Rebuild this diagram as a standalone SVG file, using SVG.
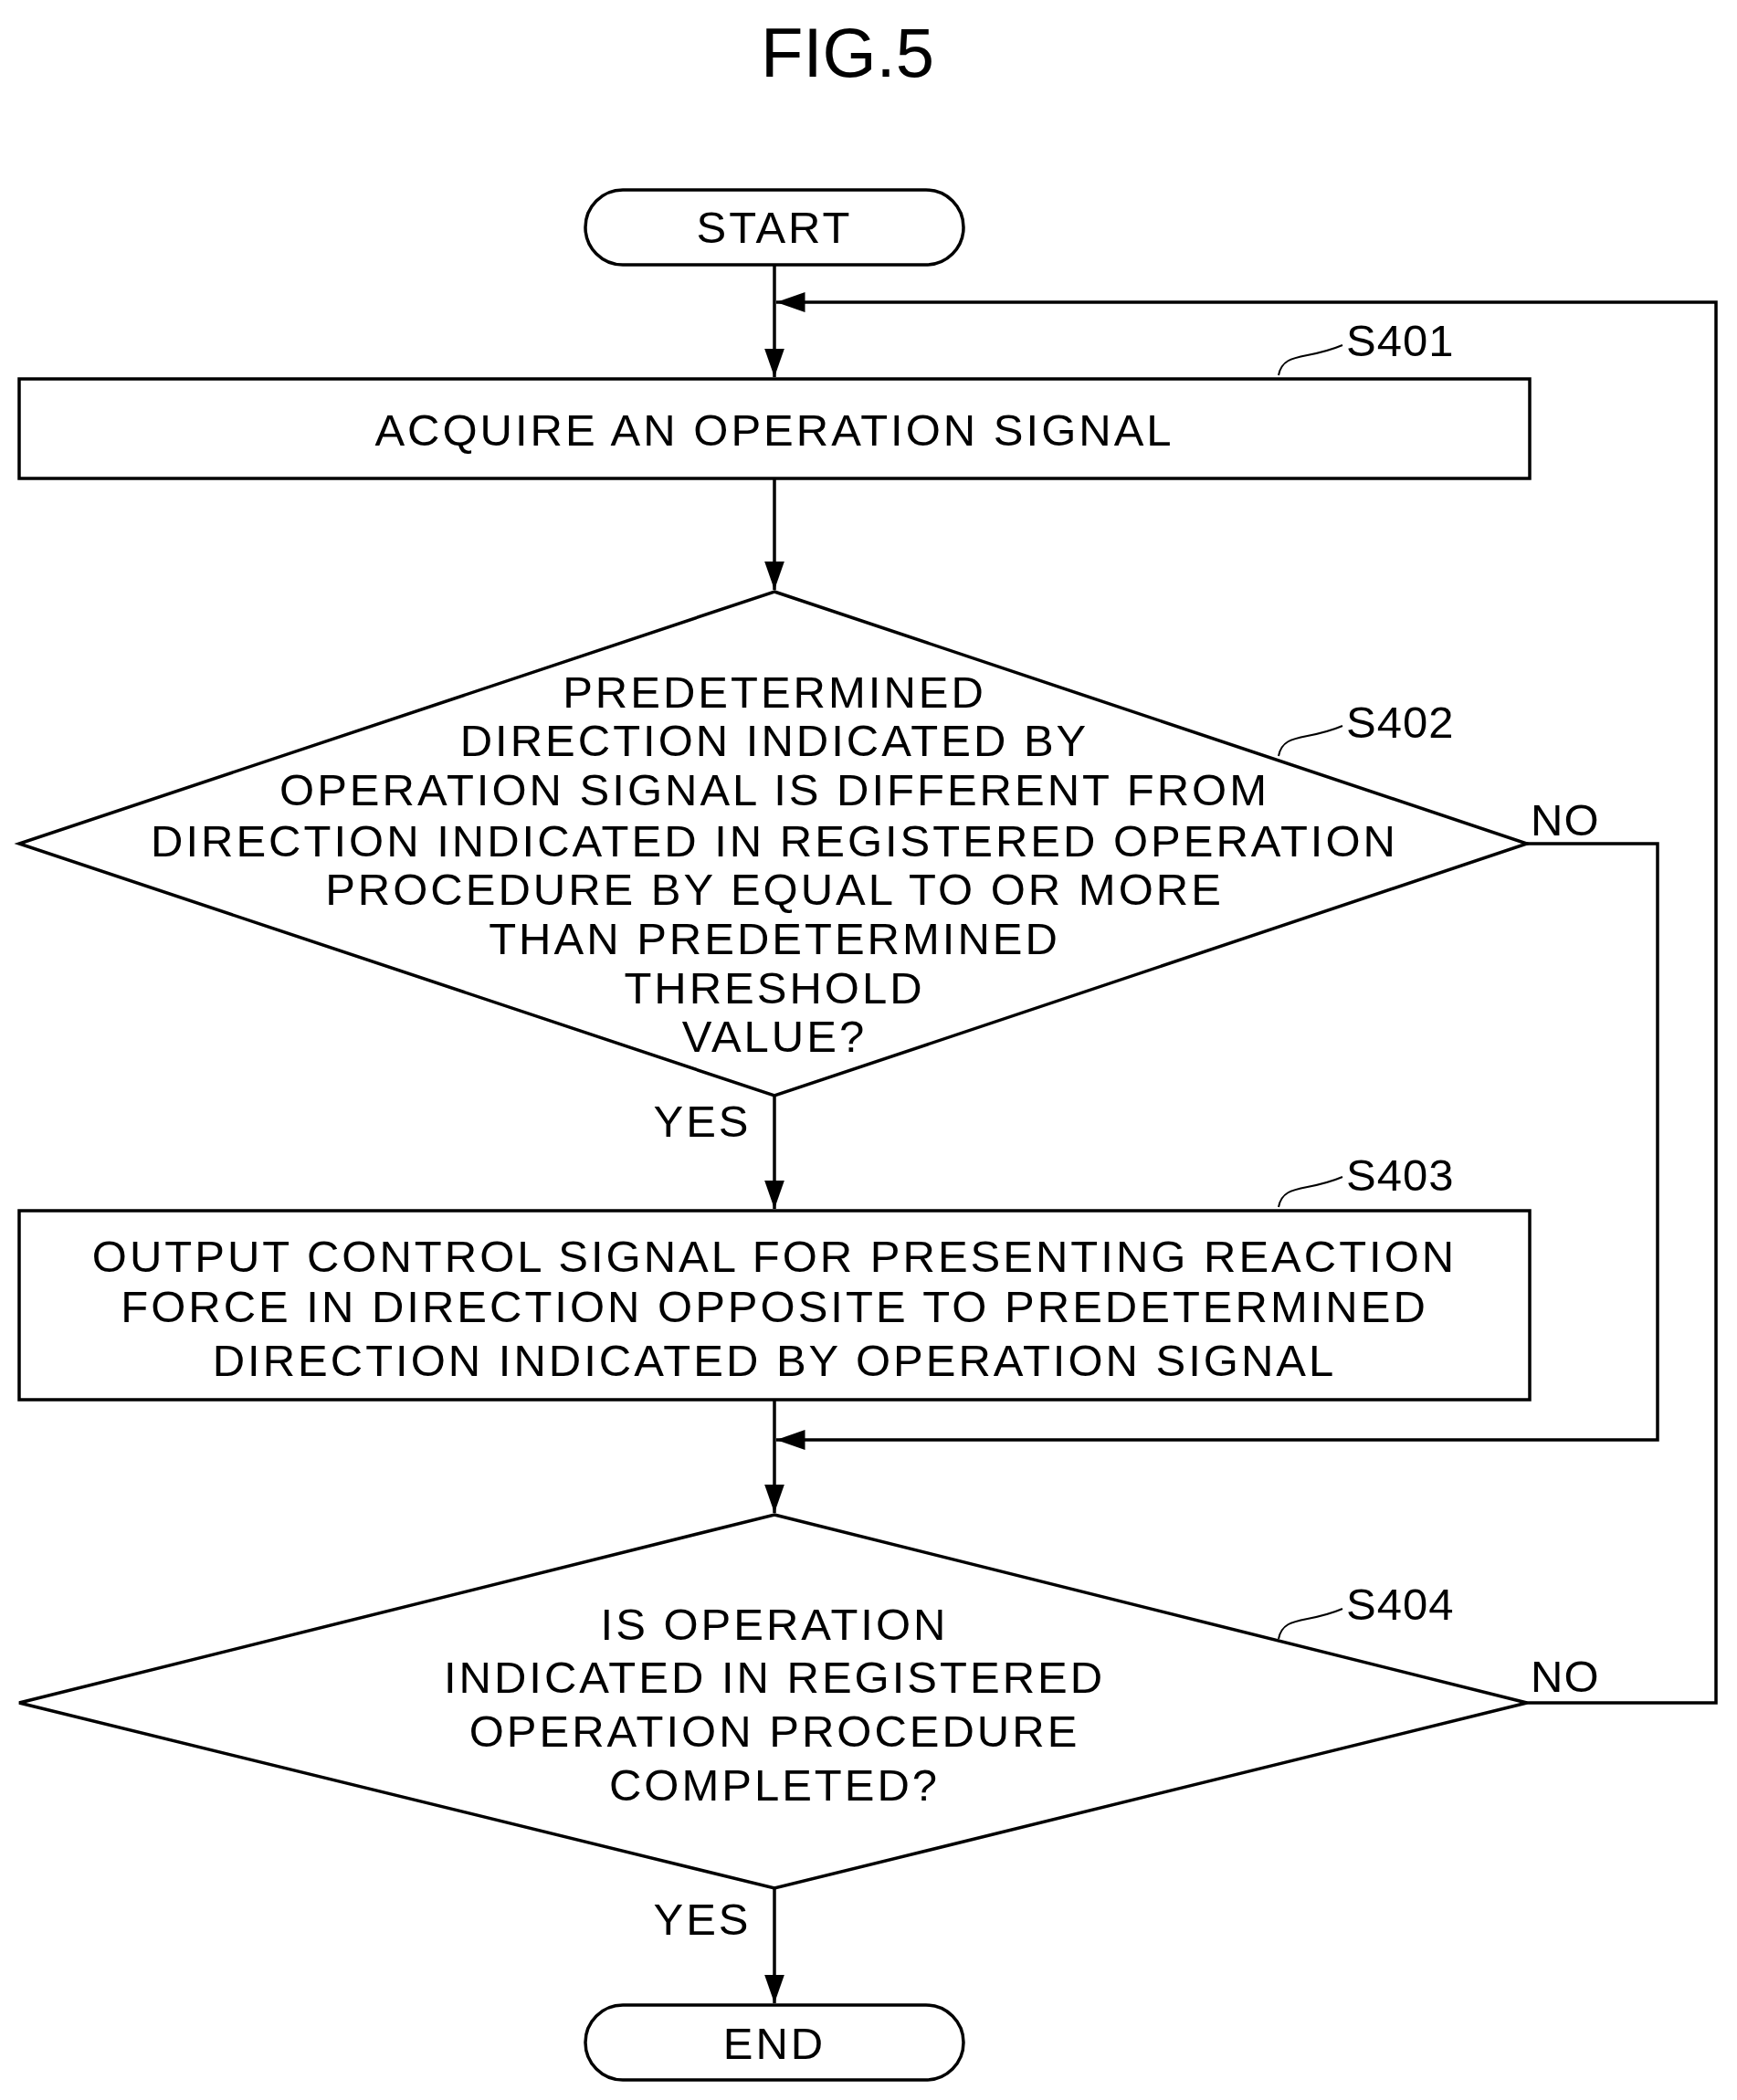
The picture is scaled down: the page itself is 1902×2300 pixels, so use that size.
<svg xmlns="http://www.w3.org/2000/svg" width="1902" height="2300" viewBox="0 0 1902 2300">
<style>
.s{fill:none;stroke:#000;stroke-width:3.5}
.t{font-family:"Liberation Sans",Arial,sans-serif;font-size:49px;letter-spacing:3px;text-anchor:middle;fill:#000}
.l{font-family:"Liberation Sans",Arial,sans-serif;font-size:49px;letter-spacing:1px;fill:#000}
</style>
<defs><marker id="b" viewBox="0 0 10 10" refX="10" refY="5" markerWidth="9" markerHeight="9" orient="auto"><path d="M0,1.5L10,5L0,8.5z" fill="#000"/></marker></defs>
<text x="928" y="84" class="t" style="font-size:76px;letter-spacing:0">FIG.5</text>
<g id="start"><rect x="641" y="208" width="414" height="82" rx="41" class="s"/><text x="848" y="266" class="t">START</text></g>
<g id="s401"><rect x="21" y="415" width="1654" height="109" class="s"/><text x="848" y="488" class="t">ACQUIRE AN OPERATION SIGNAL</text>
<path d="M1400,411 C1405,385 1430,395 1470,378" class="s" style="stroke-width:2"/><text x="1474" y="390" class="l">S401</text></g>
<g id="s402"><polygon points="848,648 1672,924 848,1200 21,924" class="s"/>
<text class="t"><tspan x="848" y="775">PREDETERMINED</tspan><tspan x="848" y="828">DIRECTION INDICATED BY</tspan><tspan x="848" y="882">OPERATION SIGNAL IS DIFFERENT FROM</tspan><tspan x="848" y="938">DIRECTION INDICATED IN REGISTERED OPERATION</tspan><tspan x="848" y="991">PROCEDURE BY EQUAL TO OR MORE</tspan><tspan x="848" y="1045">THAN PREDETERMINED</tspan><tspan x="848" y="1099">THRESHOLD</tspan><tspan x="848" y="1152">VALUE?</tspan></text>
<path d="M1400,828 C1405,802 1430,812 1470,795" class="s" style="stroke-width:2"/><text x="1474" y="808" class="l">S402</text></g>
<g id="s403"><rect x="21" y="1326" width="1654" height="207" class="s"/>
<text class="t"><tspan x="848" y="1393">OUTPUT CONTROL SIGNAL FOR PRESENTING REACTION</tspan><tspan x="848" y="1448">FORCE IN DIRECTION OPPOSITE TO PREDETERMINED</tspan><tspan x="848" y="1507">DIRECTION INDICATED BY OPERATION SIGNAL</tspan></text>
<path d="M1400,1322 C1405,1296 1430,1306 1470,1289" class="s" style="stroke-width:2"/><text x="1474" y="1304" class="l">S403</text></g>
<g id="s404"><polygon points="848,1659 1672,1865 848,2068 21,1865" class="s"/>
<text class="t"><tspan x="848" y="1796">IS OPERATION</tspan><tspan x="848" y="1854">INDICATED IN REGISTERED</tspan><tspan x="848" y="1913">OPERATION PROCEDURE</tspan><tspan x="848" y="1972">COMPLETED?</tspan></text>
<path d="M1400,1795 C1405,1769 1430,1779 1470,1762" class="s" style="stroke-width:2"/><text x="1474" y="1774" class="l">S404</text></g>
<g id="end"><rect x="641" y="2196" width="414" height="82" rx="41" class="s"/><text x="848" y="2255" class="t">END</text></g>
<g id="connectors">
<path d="M848,290V413" class="s" marker-end="url(#b)"/>
<path d="M848,524V646" class="s" marker-end="url(#b)"/>
<path d="M848,1200V1324" class="s" marker-end="url(#b)"/>
<path d="M848,1533V1657" class="s" marker-end="url(#b)"/>
<path d="M848,2068V2194" class="s" marker-end="url(#b)"/>
<path d="M1672,924H1815V1577H850" class="s" marker-end="url(#b)"/>
<path d="M1672,1865H1879V331H850" class="s" marker-end="url(#b)"/>
<text x="1676" y="915" class="l">NO</text>
<text x="1676" y="1853" class="l">NO</text>
<text x="769" y="1245" class="t">YES</text>
<text x="769" y="2119" class="t">YES</text>
</g>
</svg>
